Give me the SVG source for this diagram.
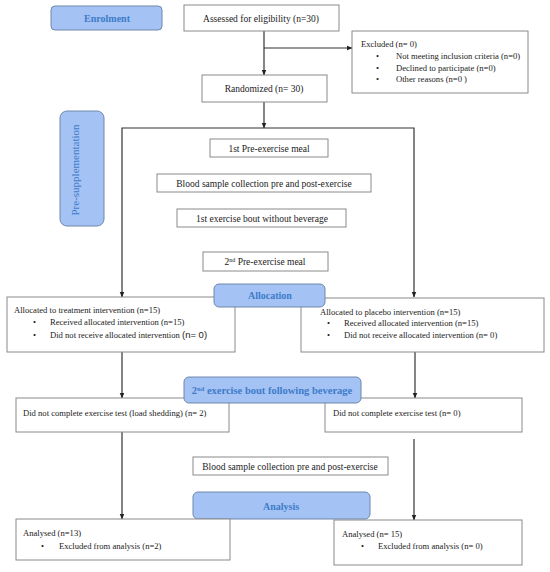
<svg xmlns="http://www.w3.org/2000/svg" width="550" height="572" viewBox="0 0 550 572">
<defs>
<marker id="arr" viewBox="0 0 10 10" refX="9" refY="5" markerWidth="6" markerHeight="6" orient="auto" markerUnits="userSpaceOnUse">
<path d="M0,1 L10,5 L0,9 Z" fill="#222"/>
</marker>
<style>
.box{fill:#fff;stroke:#8a8a8a;stroke-width:1}
.lab{fill:#a4c2f4;stroke:#6f88aa;stroke-width:1}
.t{font-family:"Liberation Serif","Times New Roman",serif;font-size:8.6px;fill:#222}
.tc{font-family:"Liberation Serif","Times New Roman",serif;font-size:9.5px;fill:#222;text-anchor:middle}
.lt{font-family:"Liberation Serif","Times New Roman",serif;font-size:10px;font-weight:bold;fill:#3d7cc9;text-anchor:middle}
.ln{fill:none;stroke:#333;stroke-width:1.2}
</style>
</defs>
<rect width="550" height="572" fill="#fff"/>
<g id="connectors">
<line class="ln" x1="264" y1="31" x2="264" y2="75" marker-end="url(#arr)"/>
<line class="ln" x1="264" y1="48" x2="352" y2="48" marker-end="url(#arr)"/>
<line class="ln" x1="264" y1="102" x2="264" y2="128" marker-end="url(#arr)"/>
<path class="ln" d="M264,128 H122 V297" marker-end="url(#arr)"/>
<path class="ln" d="M264,128 H414 V297" marker-end="url(#arr)"/>
<line class="ln" x1="122" y1="352" x2="122" y2="398" marker-end="url(#arr)"/>
<line class="ln" x1="415" y1="352" x2="415" y2="398" marker-end="url(#arr)"/>
<line class="ln" x1="122" y1="432" x2="122" y2="519" marker-end="url(#arr)"/>
<line class="ln" x1="414" y1="439" x2="414" y2="520" marker-end="url(#arr)"/>
</g>
<g id="enrolment">
<rect class="lab" x="51" y="6" width="111" height="24" rx="4"/>
<text class="lt" x="107" y="22">Enrolment</text>
</g>
<g id="assessed">
<rect class="box" x="184" y="5" width="155" height="26"/>
<text class="tc" x="261" y="22">Assessed for eligibility (n=30)</text>
</g>
<g id="excluded">
<rect class="box" x="352" y="31" width="176" height="62"/>
<text class="t" x="361" y="47">Excluded (n= 0)</text>
<text class="t" x="376" y="59">•</text><text class="t" x="396" y="59">Not meeting inclusion criteria (n=0)</text>
<text class="t" x="376" y="71">•</text><text class="t" x="396" y="71">Declined to participate (n=0)</text>
<text class="t" x="376" y="82">•</text><text class="t" x="396" y="82">Other reasons (n=0 )</text>
</g>
<g id="randomized">
<rect class="box" x="202" y="75" width="125" height="27"/>
<text class="tc" x="264" y="92">Randomized (n= 30)</text>
</g>
<g id="presupp">
<rect class="lab" x="60" y="111" width="44" height="115" rx="7"/>
<text class="lt" style="font-weight:normal;font-size:11px" transform="translate(79,170) rotate(-90)">Pre-supplementation</text>
</g>
<g id="meal1">
<rect class="box" x="210" y="139" width="118" height="18"/>
<text class="tc" x="269" y="151.5">1st Pre-exercise meal</text>
</g>
<g id="blood1">
<rect class="box" x="157" y="174" width="214" height="18"/>
<text class="tc" x="264" y="186.5">Blood sample collection pre and post-exercise</text>
</g>
<g id="bout1">
<rect class="box" x="177" y="209" width="169" height="18"/>
<text class="tc" x="262" y="222">1st exercise bout without beverage</text>
</g>
<g id="meal2">
<rect class="box" x="203" y="252" width="125" height="19"/>
<text class="tc" x="265" y="265">2<tspan font-size="6px" dy="-3">nd</tspan><tspan dy="3"> Pre-exercise meal</tspan></text>
</g>
<g id="alloc-treat">
<rect class="box" x="7" y="297" width="228" height="55"/>
<text class="t" x="14" y="313">Allocated to treatment intervention (n=15)</text>
<text class="t" x="33" y="325">•</text><text class="t" x="50" y="325">Received allocated intervention (n=15)</text>
<text class="t" x="33" y="338">•</text><text class="t" x="50" y="338">Did not receive allocated intervention <tspan font-family="Liberation Sans, Arial, sans-serif" font-size="9.5px">(n= 0)</tspan></text>
</g>
<g id="alloc-placebo">
<rect class="box" x="301" y="298" width="243" height="54"/>
<text class="t" x="320" y="315">Allocated to placebo intervention (n=15)</text>
<text class="t" x="327" y="326">•</text><text class="t" x="344" y="326">Received allocated intervention (n=15)</text>
<text class="t" x="327" y="338">•</text><text class="t" x="344" y="338">Did not receive allocated intervention (n= 0)</text>
</g>
<g id="allocation">
<rect class="lab" x="214" y="284" width="111" height="23" rx="5"/>
<text class="lt" x="270" y="299">Allocation</text>
</g>
<g id="dnc-left">
<rect class="box" x="16" y="398" width="213" height="34"/>
<text class="t" x="23" y="416">Did not complete exercise test (load shedding) (n= 2)</text>
</g>
<g id="dnc-right">
<rect class="box" x="325" y="398" width="197" height="34"/>
<text class="t" x="333" y="416">Did not complete exercise test (n= 0)</text>
</g>
<g id="bout2">
<rect class="lab" x="184" y="377" width="177" height="26" rx="5"/>
<text class="lt" style="font-size:10.5px" x="272" y="394">2<tspan font-size="6.5px" dy="-3.5">nd</tspan><tspan dy="3.5"> exercise bout following beverage</tspan></text>
</g>
<g id="blood2">
<rect class="box" x="193" y="457" width="195" height="18"/>
<text class="tc" x="290" y="470">Blood sample collection pre and post-exercise</text>
</g>
<g id="analysis">
<rect class="lab" x="193" y="492" width="177" height="27" rx="5"/>
<text class="lt" x="281" y="510">Analysis</text>
</g>
<g id="analysed-left">
<rect class="box" x="16" y="519" width="214" height="41"/>
<text class="t" x="23" y="536">Analysed (n=13)</text>
<text class="t" x="41" y="549">•</text><text class="t" x="59" y="549">Excluded from analysis (n=2)</text>
</g>
<g id="analysed-right">
<rect class="box" x="334" y="520" width="188" height="45"/>
<text class="t" x="342" y="537">Analysed (n= 15)</text>
<text class="t" x="361" y="549">•</text><text class="t" x="378" y="549">Excluded from analysis (n= 0)</text>
</g>
</svg>
